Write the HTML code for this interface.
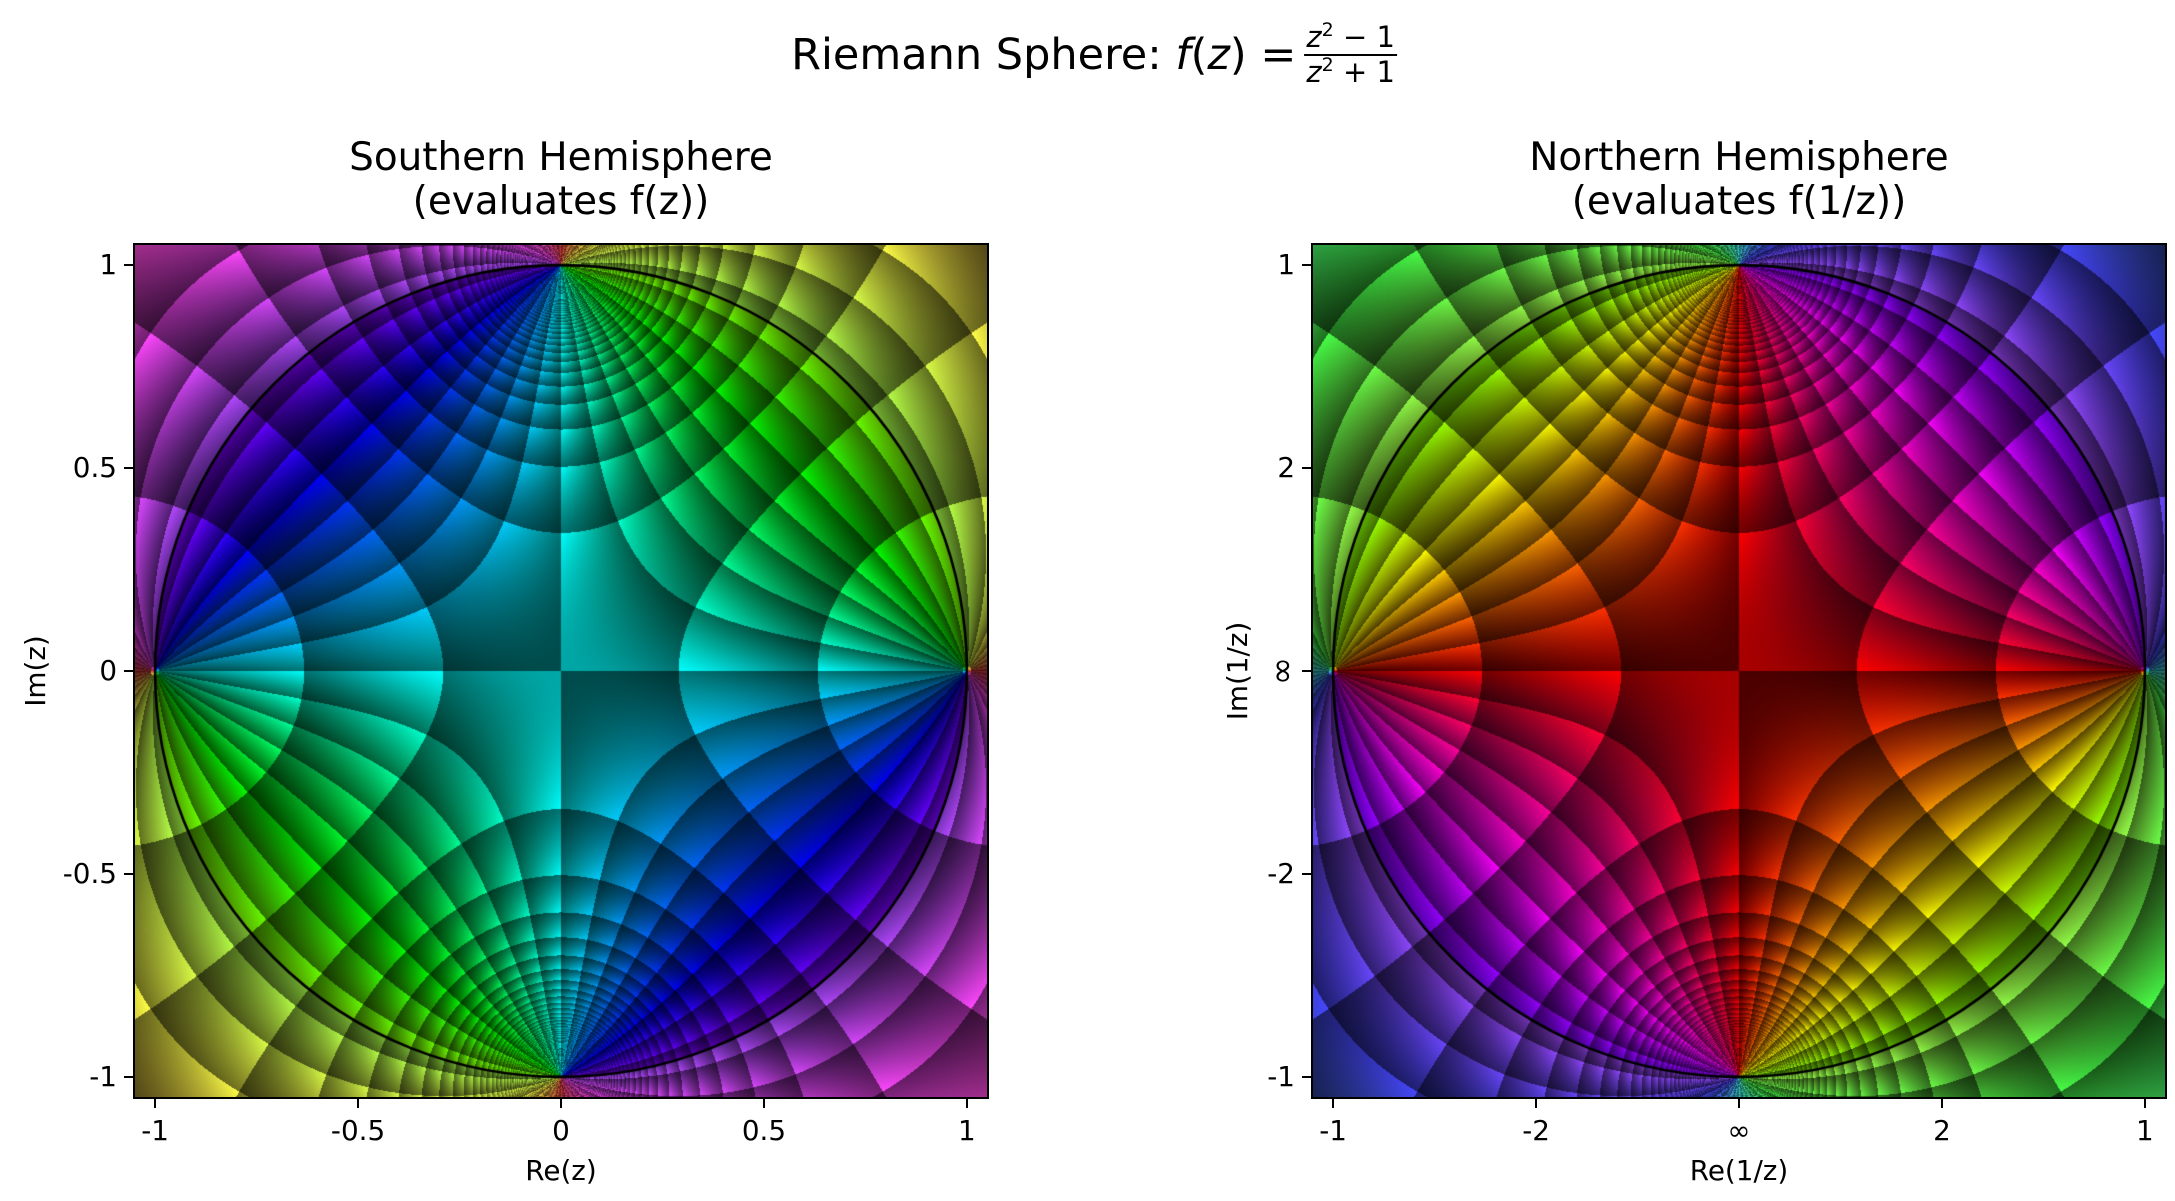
<!DOCTYPE html>
<html><head><meta charset="utf-8">
<style>
html,body{margin:0;padding:0;background:#fff;}
body{width:2175px;height:1201px;position:relative;overflow:hidden;font-family:"DejaVu Sans","Liberation Sans",sans-serif;color:#000;}
canvas{position:absolute;}
.frame{position:absolute;border:2.2px solid #000;box-sizing:border-box;pointer-events:none;}
.title{position:absolute;text-align:center;font-size:38.9px;line-height:44px;white-space:nowrap;transform:translateX(-50%);}
.tick{position:absolute;background:#000;}
.tl{position:absolute;font-size:27.8px;line-height:28px;white-space:nowrap;}
.lab{position:absolute;font-size:27.8px;line-height:28px;white-space:nowrap;}
#sup{position:absolute;left:1094px;top:22px;transform:translateX(-50%);font-size:43px;display:flex;align-items:center;white-space:nowrap;}
.frac{display:inline-flex;flex-direction:column;align-items:center;font-size:29px;line-height:31px;margin-left:8px;}
.frac .num{border-bottom:2.2px solid #000;padding:0 2px 1px 2px;}
.frac .den{padding-top:1px;}
i{font-style:italic;}
sup{font-size:19px;vertical-align:11px;line-height:0;}
</style></head>
<body>
<div id="sup">Riemann Sphere:&nbsp;<i>f</i>(<i>z</i>)&nbsp;=<span class="frac"><span class="num"><i>z</i><sup>2</sup> − 1</span><span class="den"><i>z</i><sup>2</sup> + 1</span></span></div>

<div class="title" style="left:561px;top:136px;">Southern Hemisphere<br>(evaluates f(z))</div>
<div class="title" style="left:1739px;top:136px;">Northern Hemisphere<br>(evaluates f(1/z))</div>

<canvas id="cL" width="854" height="854" style="left:134px;top:244px;"></canvas>
<canvas id="cR" width="854" height="854" style="left:1312px;top:244px;"></canvas>
<div class="frame" style="left:133px;top:243px;width:856px;height:856px;"></div>
<div class="frame" style="left:1311px;top:243px;width:856px;height:856px;"></div>

<div class="lab" style="left:561px;top:1157px;transform:translateX(-50%);">Re(z)</div>
<div class="lab" style="left:36px;top:671px;transform:translate(-50%,-50%) rotate(-90deg);">Im(z)</div>
<div class="lab" style="left:1739px;top:1157px;transform:translateX(-50%);">Re(1/z)</div>
<div class="lab" style="left:1238px;top:671px;transform:translate(-50%,-50%) rotate(-90deg);">Im(1/z)</div>

<script>
// function coefficients f(z) = (z^2 - 1)/(z^2 + 1), lowest order first
const numCoeffs = [-1, 0, 1];
const denCoeffs = [1, 0, 1];
const tickValues = [-1, -0.5, 0, 0.5, 1];
const leftTickLabels = ["-1", "-0.5", "0", "0.5", "1"];
const rightTickLabels = ["-1", "-2", "∞", "2", "1"];
const phaseSectors = 30;
const modulusStep = 0.417;
const modulusOffset = -0.026;
const extent = 1.052;

const SIZE = 854;
function poly(c, re, im){
  let r = 0, i = 0;
  for (let k = c.length - 1; k >= 0; k--) {
    const nr = r*re - i*im + c[k];
    const ni = r*im + i*re;
    r = nr; i = ni;
  }
  return [r, i];
}
function hsv(h, s, v){
  const i = Math.floor(h*6), f = h*6 - i;
  const p = v*(1-s), q = v*(1-f*s), t = v*(1-(1-f)*s);
  switch(((i%6)+6)%6){
    case 0: return [v,t,p]; case 1: return [q,v,p]; case 2: return [p,v,t];
    case 3: return [p,q,v]; case 4: return [t,p,v]; default: return [v,p,q];
  }
}
function render(id, invert){
  const cv = document.getElementById(id), ctx = cv.getContext('2d');
  const img = ctx.createImageData(SIZE, SIZE), d = img.data;
  for (let py = 0; py < SIZE; py++){
    const y = extent - (py + 0.5) / SIZE * 2 * extent;
    for (let px = 0; px < SIZE; px++){
      const x = -extent + (px + 0.5) / SIZE * 2 * extent;
      let zr = x, zi = y;
      if (invert){ const m = x*x + y*y || 1e-12; zr = x/m; zi = -y/m; }
      const n = poly(numCoeffs, zr, zi), dd = poly(denCoeffs, zr, zi);
      const dm = dd[0]*dd[0] + dd[1]*dd[1] || 1e-30;
      const fr = (n[0]*dd[0] + n[1]*dd[1]) / dm, fi = (n[1]*dd[0] - n[0]*dd[1]) / dm;
      const arg = Math.atan2(fi, fr);
      const mod = Math.hypot(fr, fi);
      let hue = arg / (2*Math.PI); hue -= Math.floor(hue);
      let pf = (arg + Math.PI) / (2*Math.PI) * phaseSectors; pf -= Math.floor(pf);
      let mf = mod / modulusStep + modulusOffset; mf -= Math.floor(mf);
      if (!isFinite(mf)) mf = 0.5;
      const v = (0.45 + 0.55*pf) * (0.45 + 0.55*mf);
      let c = hsv(hue, 1, 1);
      if (x*x + y*y > 1){ c = c.map(t => t*0.72 + 0.28); }
      const o = (py*SIZE + px) * 4;
      d[o] = c[0]*v*255; d[o+1] = c[1]*v*255; d[o+2] = c[2]*v*255; d[o+3] = 255;
    }
  }
  ctx.putImageData(img, 0, 0);
  ctx.beginPath();
  ctx.arc(SIZE/2, SIZE/2, SIZE/2/extent, 0, 2*Math.PI);
  ctx.lineWidth = 2.6; ctx.strokeStyle = '#000'; ctx.stroke();
}
render('cL', false);
render('cR', true);

function axes(left, labels, prefix){
  const top = 244, scale = SIZE/2/extent, cx = left + SIZE/2, cy = top + SIZE/2;
  tickValues.forEach((t, k) => {
    const xt = document.createElement('div');
    xt.className = 'tick';
    xt.style.cssText = `left:${cx + t*scale - 1.1}px;top:1098px;width:2.2px;height:10px;`;
    
    
    document.body.appendChild(xt);
    const xl = document.createElement('div');
    xl.className = 'tl';
    xl.textContent = labels[k];
    xl.style.cssText = `left:${cx + t*scale}px;top:1117px;transform:translateX(-50%);`;
    
    
    document.body.appendChild(xl);
    const yt = document.createElement('div');
    yt.className = 'tick';
    yt.style.cssText = `left:${left - 10}px;top:${cy - t*scale - 1.1}px;width:10px;height:2.2px;`;
    
    
    document.body.appendChild(yt);
    const yl = document.createElement('div');
    yl.className = 'tl';
    yl.textContent = labels[k];
    const isInf = labels[k] === '∞';
    yl.style.cssText = isInf
      ? `left:${left - 30}px;top:${cy - t*scale}px;transform:translate(-50%,-50%) rotate(-90deg);font-size:34px;`
      : `left:${left - 17}px;top:${cy - t*scale}px;transform:translate(-100%,-50%);`;
    
    
    document.body.appendChild(yl);
  });
}
axes(134, leftTickLabels, 'left');
axes(1312, rightTickLabels, 'right');
</script>
</body></html>
